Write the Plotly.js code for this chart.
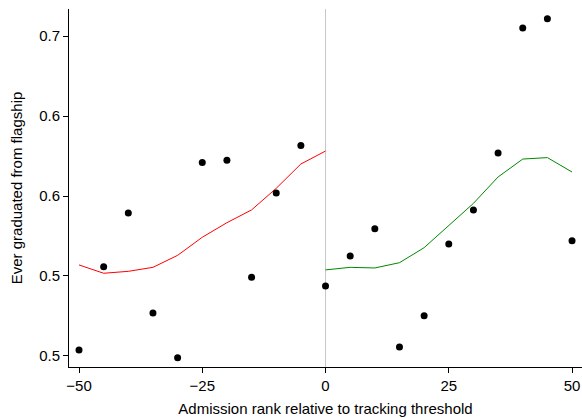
<!DOCTYPE html>
<html>
<head>
<meta charset="utf-8">
<script src="https://cdn.plot.ly/plotly-3.0.1.min.js"></script>
<style>html,body{margin:0;padding:0;background:#fff;}#chart{width:582px;height:418px;}</style>
</head>
<body>
<div id="chart"></div>
<script>
var binX = [-50,-45,-40,-35,-30,-25,-20,-15,-10,-5,0,5,10,15,20,25,30,35,40,45,50];
var binY = [0.5038,0.5558,0.5894,0.5269,0.4989,0.6210,0.6223,0.5492,0.6019,0.6315,0.5438,
            0.5625,0.5796,0.5056,0.5252,0.5700,0.5913,0.6269,0.7050,0.7108,0.5721];
var leftX = [-50,-45,-40,-35,-30,-25,-20,-15,-10,-5,0];
var leftFit = [0.5569,0.5517,0.5529,0.5554,0.5629,0.5742,0.5833,0.5913,0.6048,0.6200,0.6281];
var rightX = [0,5,10,15,20,25,30,35,40,45,50];
var rightFit = [0.5538,0.5554,0.5550,0.5583,0.5677,0.5817,0.5954,0.6119,0.6231,0.6240,0.6150];
var yTickVals = [0.50,0.55,0.60,0.65,0.70];
var yTickText = ["0.5","0.5","0.6","0.6","0.7"];
var xTickVals = [-50,-25,0,25,50];

var traces = [
  {x:leftX, y:leftFit, mode:'lines', line:{color:'#ff0000', width:1}, hoverinfo:'skip'},
  {x:rightX, y:rightFit, mode:'lines', line:{color:'#008800', width:1}, hoverinfo:'skip'},
  {x:binX, y:binY, mode:'markers', marker:{color:'#000', size:7}}
];
var layout = {
  width:582, height:418,
  margin:{l:69, r:0, t:9, b:51},
  paper_bgcolor:'#fff', plot_bgcolor:'#fff',
  showlegend:false,
  font:{family:'"Liberation Sans", Arial, sans-serif', size:15, color:'#000'},
  xaxis:{range:[-52.03,52.02], tickvals:xTickVals, showgrid:false, zeroline:false,
    showline:true, linecolor:'#000', linewidth:1, ticks:'outside', ticklen:5, tickcolor:'#000',
    tickfont:{size:15}, title:{text:'Admission rank relative to tracking threshold', font:{size:15}, standoff:10}},
  yaxis:{range:[0.4931,0.7169], tickvals:yTickVals, ticktext:yTickText, showgrid:false, zeroline:false,
    showline:true, linecolor:'#000', linewidth:1, ticks:'outside', ticklen:5, tickcolor:'#000',
    tickfont:{size:15}, title:{text:'Ever graduated from flagship', font:{size:15}, standoff:12}},
  shapes:[{type:'line', xref:'x', yref:'paper', x0:0, x1:0, y0:0, y1:1, layer:'below',
    line:{color:'#c8c8c8', width:1}}]
};
Plotly.newPlot('chart', traces, layout, {displayModeBar:false, staticPlot:true});
</script>
</body>
</html>
